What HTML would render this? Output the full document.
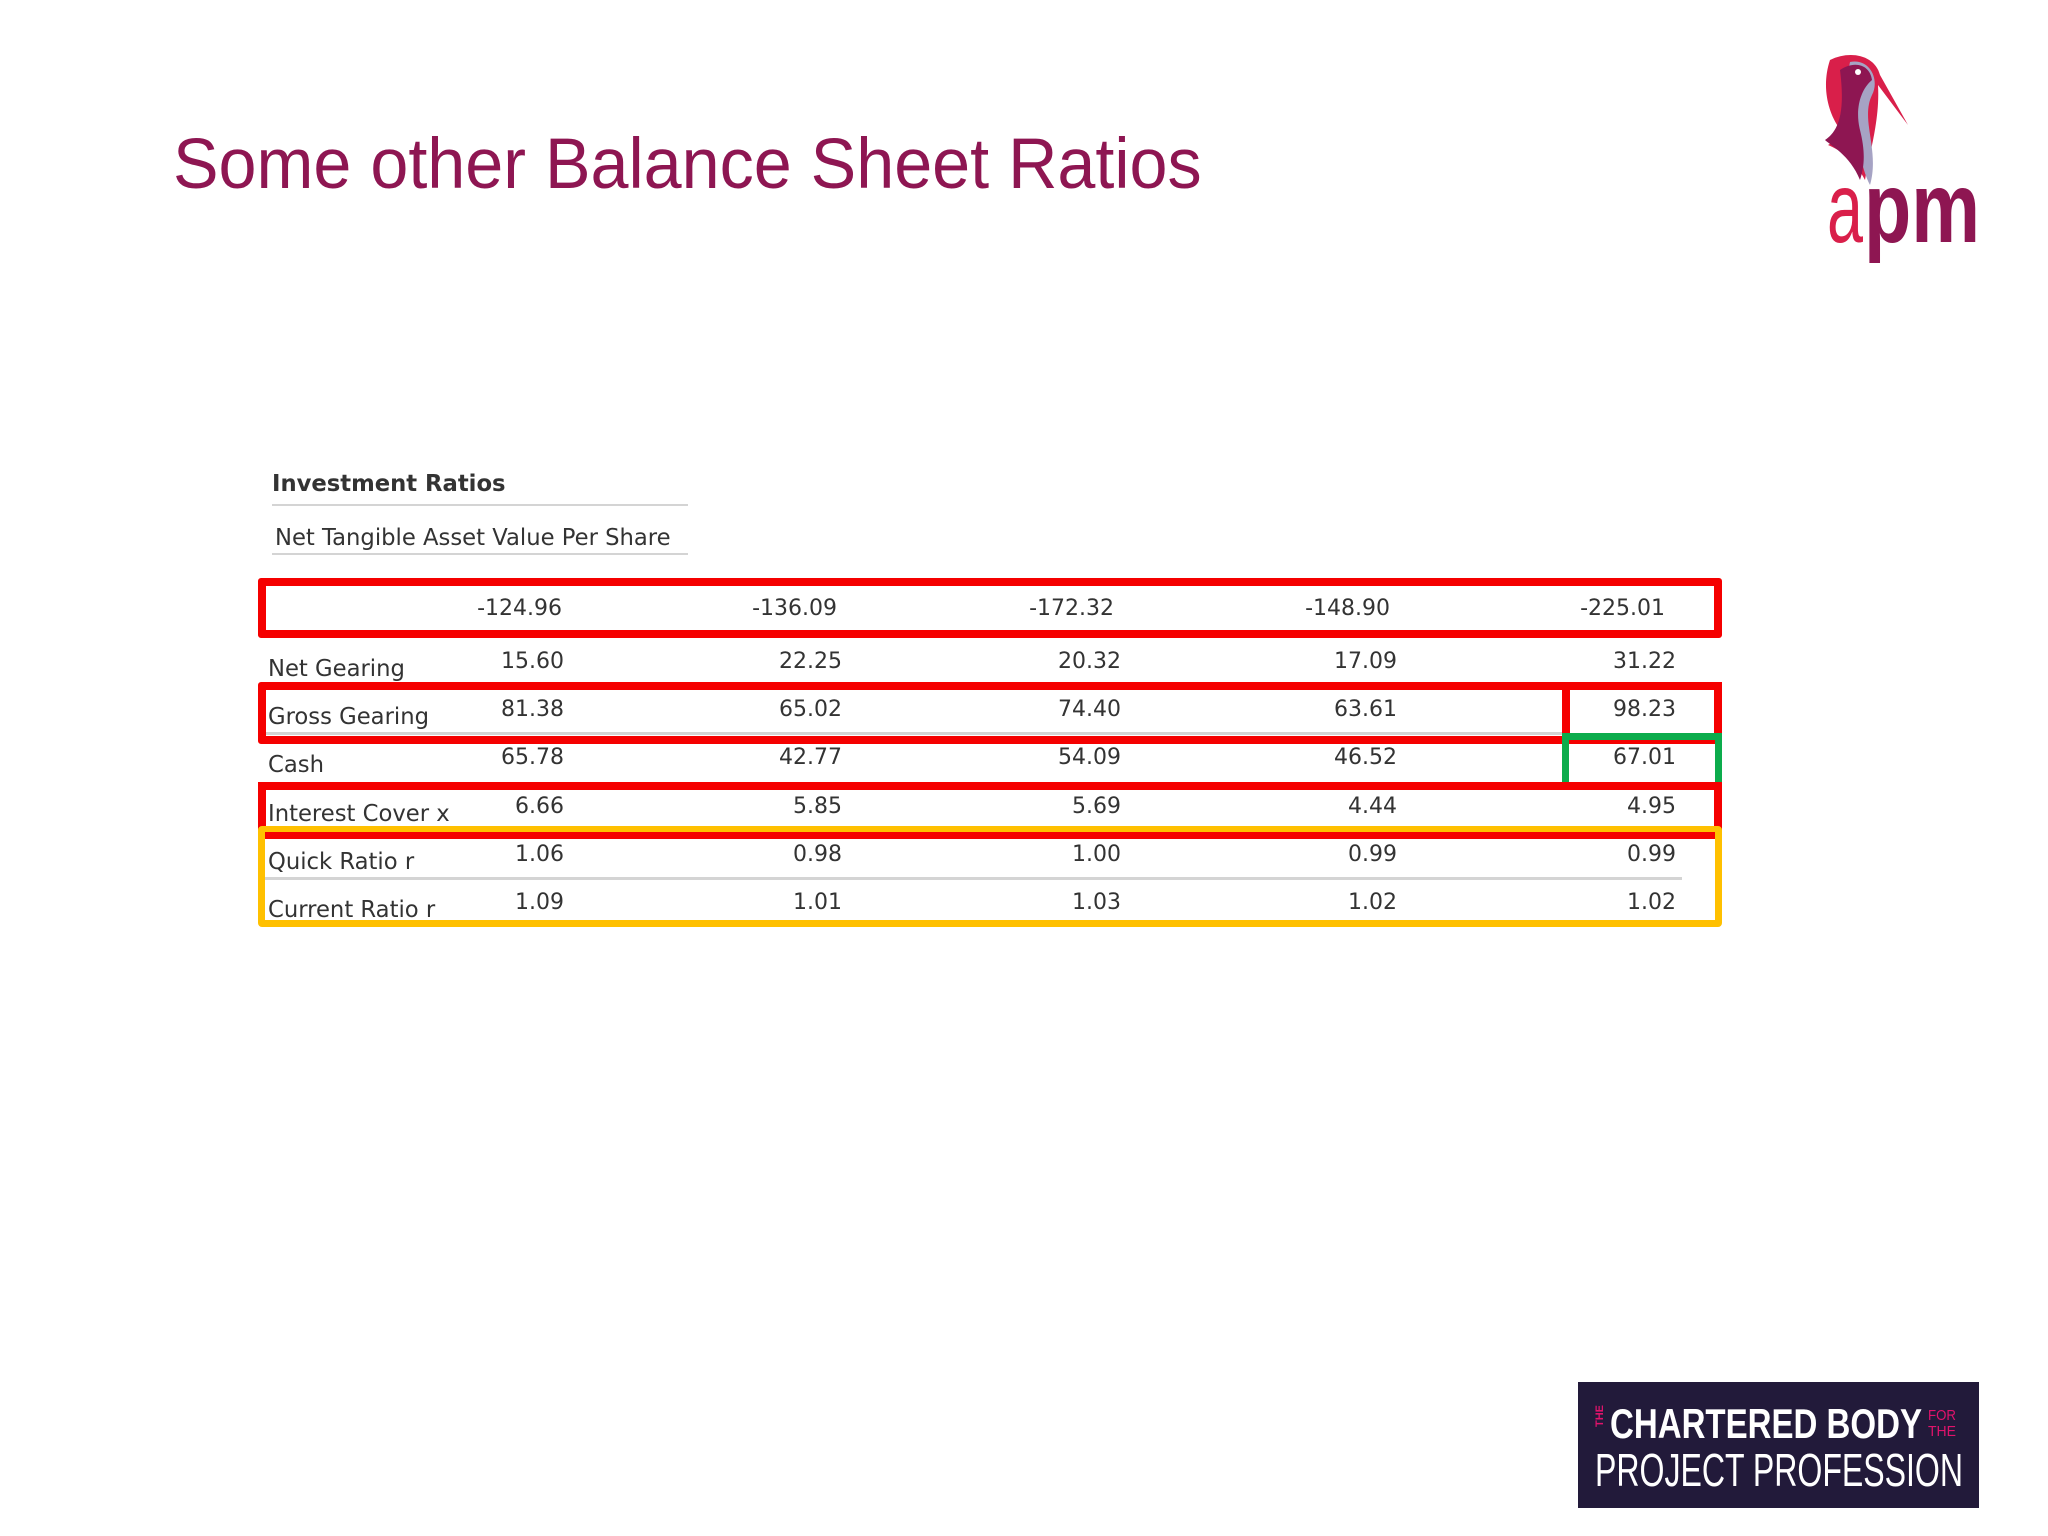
<!DOCTYPE html>
<html><head><meta charset="utf-8"><style>
html,body{margin:0;padding:0;}
body{width:2048px;height:1536px;position:relative;background:#fff;overflow:hidden;font-family:"DejaVu Sans","Liberation Sans",sans-serif;color:#333;}
.abs{position:absolute;}
.lbl{position:absolute;font-size:22.7px;white-space:nowrap;line-height:1;}
.val{position:absolute;font-size:22px;white-space:nowrap;line-height:1;text-align:right;width:160px;}
.box{position:absolute;box-sizing:border-box;}
</style></head><body>
<div class="abs" style="left:173px;top:129px;font-family:'Liberation Sans',sans-serif;font-size:71.5px;color:#8e1652;white-space:nowrap;line-height:1;transform:scaleX(0.955);transform-origin:left top;">Some other Balance Sheet Ratios</div>

<svg class="abs" style="left:1800px;top:50px" width="200" height="225" viewBox="0 0 200 225">
  <path d="M30 10 C50 0 75 5 80 25 L108 75 L78 35 C80 70 70 100 65 130 C55 110 40 100 28 95 L45 85 C30 70 20 40 30 10Z" fill="#d91f4a"/>
  <path d="M50 12 C70 8 80 30 72 45 C60 70 80 100 70 135 C62 120 60 100 55 90 C45 70 45 35 50 12Z" fill="#a6a3c4"/>
  <path d="M40 20 C55 10 70 15 72 30 C60 40 55 60 60 80 C65 100 65 115 60 130 C50 105 30 95 25 90 C40 80 45 60 40 20Z" fill="#8e1652"/>
  <circle cx="58" cy="22" r="3" fill="#fff"/>
  <text x="27" y="192" font-family="'Liberation Sans',sans-serif" font-size="100" fill="#d91f4a" textLength="36" lengthAdjust="spacingAndGlyphs">a</text>
  <text x="64" y="192" font-family="'Liberation Sans',sans-serif" font-size="100" font-weight="bold" fill="#8e1652" textLength="116" lengthAdjust="spacingAndGlyphs">pm</text>
</svg>

<div class="lbl" style="left:272px;top:473px;font-weight:bold;">Investment Ratios</div>
<div class="abs" style="left:272px;top:504px;width:416px;height:2px;background:#d4d4d4"></div>
<div class="lbl" style="left:275px;top:527px;">Net Tangible Asset Value Per Share</div>
<div class="abs" style="left:272px;top:553px;width:416px;height:2px;background:#d4d4d4"></div>

<div class="abs" style="left:262px;top:732px;width:1300px;height:3px;background:#d4d4d4"></div>
<div class="abs" style="left:262px;top:877px;width:1420px;height:3px;background:#d4d4d4"></div>

<div id="table"></div>

<div class="box" style="left:258px;top:578px;width:1464px;height:60px;border:8px solid #f50000;border-radius:3px"></div>
<div class="box" style="left:258px;top:682px;width:1464px;height:62px;border:8px solid #f50000;border-radius:3px"></div>
<div class="box" style="left:1562px;top:682px;width:160px;height:62px;border:8px solid #f50000"></div>
<div class="box" style="left:1562px;top:733px;width:160px;height:56px;border:7px solid #0cac4c"></div>
<div class="box" style="left:258px;top:782px;width:1464px;height:56px;border:8px solid #f50000;border-bottom-width:7px"></div>
<div class="box" style="left:258px;top:826px;width:1464px;height:101px;border:7px solid #ffc000;border-radius:4px"></div>
<div class="abs" style="left:265px;top:832px;width:1450px;height:7px;background:#f50000"></div>

<svg class="abs" style="left:1578px;top:1382px" width="401" height="126" viewBox="0 0 401 126">
  <rect x="0" y="0" width="401" height="126" fill="#221a3a"/>
  <text x="0" y="0" transform="translate(25,45) rotate(-90)" font-family="'Liberation Sans',sans-serif" font-weight="bold" font-size="11" fill="#e0136b">THE</text>
  <text x="32" y="56" font-family="'Liberation Sans',sans-serif" font-weight="bold" font-size="42" fill="#fff" textLength="312" lengthAdjust="spacingAndGlyphs">CHARTERED BODY</text>
  <text x="350" y="38" font-family="'Liberation Sans',sans-serif" font-size="15" fill="#e0136b" textLength="28" lengthAdjust="spacingAndGlyphs">FOR</text>
  <text x="350" y="54" font-family="'Liberation Sans',sans-serif" font-size="15" fill="#e0136b" textLength="28" lengthAdjust="spacingAndGlyphs">THE</text>
  <text x="17" y="104" font-family="'Liberation Sans',sans-serif" font-size="46" fill="#fff" textLength="368" lengthAdjust="spacingAndGlyphs">PROJECT PROFESSION</text>
</svg>

<script>
const rowLabels = ["", "Net Gearing", "Gross Gearing", "Cash", "Interest Cover x", "Quick Ratio r", "Current Ratio r"];
const years1 = ["-124.96", "15.60", "81.38", "65.78", "6.66", "1.06", "1.09"];
const years2 = ["-136.09", "22.25", "65.02", "42.77", "5.85", "0.98", "1.01"];
const years3 = ["-172.32", "20.32", "74.40", "54.09", "5.69", "1.00", "1.03"];
const years4 = ["-148.90", "17.09", "63.61", "46.52", "4.44", "0.99", "1.02"];
const years5 = ["-225.01", "31.22", "98.23", "67.01", "4.95", "0.99", "1.02"];
const cols = [years1, years2, years3, years4, years5];
const valTops = [598, 651, 699, 747, 796, 844, 892];
const rights = [[562,837,1114,1390,1665],[564,842,1121,1397,1676]];
const t = document.getElementById('table');
rowLabels.forEach((lab, r) => {
  if (lab) {
    const d = document.createElement('div');
    
    
    d.className = 'lbl';
    d.style.left = '268px';
    d.style.top = (valTops[r] + 7) + 'px';
    d.textContent = lab;
    t.appendChild(d);
  }
  cols.forEach((col, c) => {
    const v = document.createElement('div');
    
    
    v.className = 'val';
    const rr = r === 0 ? rights[0][c] : rights[1][c];
    v.style.left = (rr - 160) + 'px';
    v.style.top = valTops[r] + 'px';
    v.textContent = col[r];
    t.appendChild(v);
  });
});
</script>
</body></html>
